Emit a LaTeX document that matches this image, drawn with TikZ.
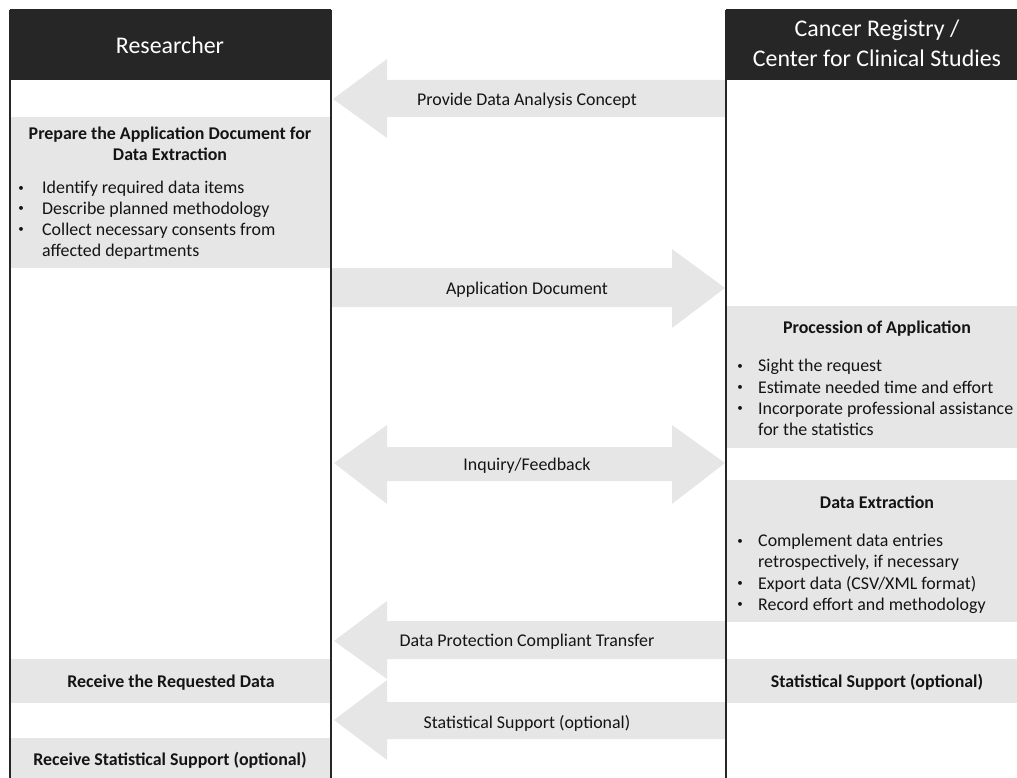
\documentclass[tikz,border=0pt]{standalone}
\usepackage{fontspec}
\setmainfont{Carlito}
\definecolor{hdr}{HTML}{262626}
\definecolor{lgray}{HTML}{E6E6E6}
\definecolor{txt}{HTML}{141414}
\newcommand{\bulletmark}{\raisebox{2.6pt}{\fontsize{11}{11}\selectfont •}}
\tikzset{
  panel/.style={fill=lgray, draw=none},
  flow/.style={fill=lgray, draw=none},
  hdrbox/.style={fill=hdr, draw=none},
  hdrtext/.style={text=white, font=\fontsize{23.9}{29}\selectfont, inner sep=0, anchor=base},
  lbl/.style={font=\fontsize{17.9}{21}\selectfont, text=txt, inner sep=0, anchor=base},
  ttl/.style={font=\fontsize{17.9}{21}\selectfont\bfseries, text=txt, inner sep=0, anchor=base},
  bul/.style={font=\fontsize{17.9}{21}\selectfont, text=txt, inner sep=0, anchor=base west},
  dot/.style={text=txt, inner sep=0, anchor=base},
  lane/.style={draw=hdr, line width=1.5pt}
}
\begin{document}
\begin{tikzpicture}[x=1pt,y=-1pt]
\useasboundingbox (0,0) rectangle (1017,778);
% lane coordinates
\coordinate (Ltop) at (10,10);
\coordinate (Rtop) at (331,10);
\coordinate (Ctop) at (726,10);
\coordinate (Lbot) at (10,778);
\coordinate (Rbot) at (331,778);
\coordinate (Cbot) at (726,778);
% gray panels
\fill[panel] (10,117) rectangle (331,268);
\fill[panel] (10,659) rectangle (331,703);
\fill[panel] (10,738) rectangle (331,778);
\fill[panel] (726,306) rectangle (1030,448);
\fill[panel] (726,480) rectangle (1030,622);
\fill[panel] (726,659) rectangle (1030,703);
% flow arrows
\fill[flow] (726,80) -- (387,80) -- (387,59) -- (333,99) -- (387,138) -- (387,117) -- (726,117) -- cycle;
\fill[flow] (331,268) -- (672,268) -- (672,249) -- (725,288) -- (672,328) -- (672,307) -- (331,307) -- cycle;
\fill[flow] (334,463) -- (387,425) -- (387,447) -- (672,447) -- (672,425) -- (725,463) -- (672,504) -- (672,481) -- (387,481) -- (387,504) -- cycle;
\fill[flow] (726,621) -- (387,621) -- (387,601) -- (334,641) -- (387,679) -- (387,659) -- (726,659) -- cycle;
\fill[flow] (726,702) -- (387,702) -- (387,680) -- (334,720) -- (387,760) -- (387,739) -- (726,739) -- cycle;
% headers
\fill[hdrbox] (10,10) rectangle (331,80);
\fill[hdrbox] (726,10) rectangle (1030,80);
% lane lines
\draw[lane] (Ltop) -- (Lbot);
\draw[lane] (Rtop) -- (Rbot);
\draw[lane] (Ctop) -- (Cbot);
\draw[lane] (Ltop) -- (Rtop);
\draw[lane] (Ctop) -- (1030,10);
% header texts
\node[hdrtext] (res) at (170,53.3) {Researcher};
\node[hdrtext] (reg1) at (877,37) {Cancer Registry /};
\node[hdrtext] (reg2) at (877,67) {Center for Clinical Studies};
% arrow labels
\node[lbl] (a1) at (527,105.3) {Provide Data Analysis Concept};
\node[lbl] (a2) at (527,294.3) {Application Document};
\node[lbl] (a3) at (527,470.3) {Inquiry/Feedback};
\node[lbl] (a4) at (527,646.7) {Data Protection Compliant Transfer};
\node[lbl] (a5) at (527,728.3) {Statistical Support (optional)};
% left panel: prepare
\node[ttl] (p1) at (170,139.3) {Prepare the Application Document for};
\node[ttl] (p2) at (170,161) {Data Extraction};
\node[dot] (pb1) at (21,194) {\bulletmark};
\node[bul] (pt1) at (42,194) {Identify required data items};
\node[dot] (pb2) at (21,214.5) {\bulletmark};
\node[bul] (pt2) at (42,214.5) {Describe planned methodology};
\node[dot] (pb3) at (21,235) {\bulletmark};
\node[bul] (pt3) at (42,235) {Collect necessary consents from};
\node[bul] (pt4) at (42,256) {affected departments};
% right panel: procession
\node[ttl] (q0) at (877,333.3) {Procession of Application};
\node[dot] (qb1) at (740,371.7) {\bulletmark};
\node[bul] (qt1) at (758,371.7) {Sight the request};
\node[dot] (qb2) at (740,393.3) {\bulletmark};
\node[bul] (qt2) at (758,393.3) {Estimate needed time and effort};
\node[dot] (qb3) at (740,414.3) {\bulletmark};
\node[bul] (qt3) at (758,414.3) {Incorporate professional assistance};
\node[bul] (qt4) at (758,435.7) {for the statistics};
% right panel: extraction
\node[ttl] (e0) at (877,508.3) {Data Extraction};
\node[dot] (eb1) at (740,546.7) {\bulletmark};
\node[bul] (et1) at (758,546.7) {Complement data entries};
\node[bul] (et2) at (758,567.3) {retrospectively, if necessary};
\node[dot] (eb3) at (740,589.3) {\bulletmark};
\node[bul] (et3) at (758,589.3) {Export data (CSV/XML format)};
\node[dot] (eb4) at (740,610) {\bulletmark};
\node[bul] (et4) at (758,610) {Record effort and methodology};
% small panels
\node[ttl] (r1) at (171,687.3) {Receive the Requested Data};
\node[ttl] (s1) at (877,687.3) {Statistical Support (optional)};
\node[ttl] (r2) at (170,765) {Receive Statistical Support (optional)};
\end{tikzpicture}
\end{document}
